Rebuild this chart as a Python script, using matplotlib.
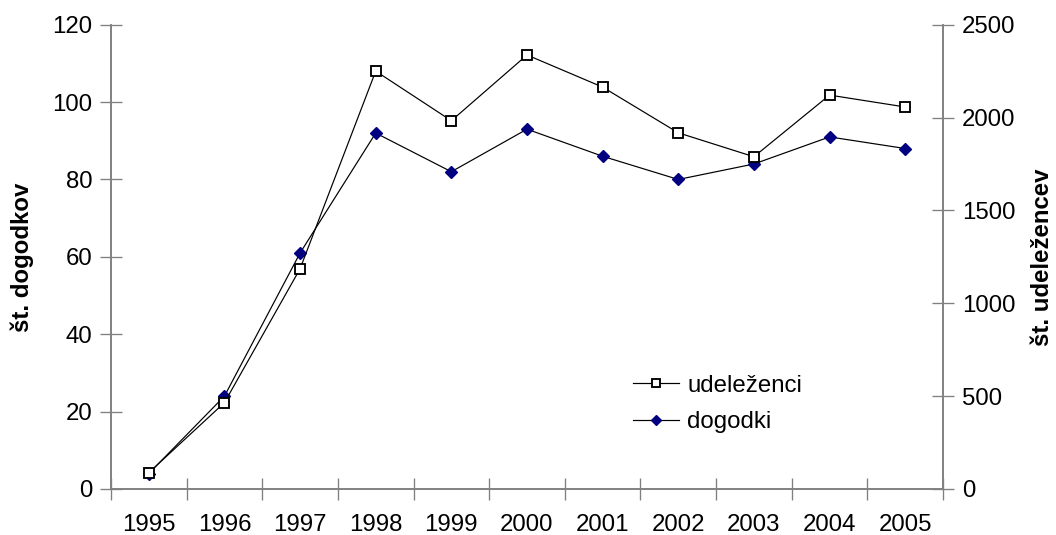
import matplotlib
matplotlib.use('Agg')
import matplotlib.pyplot as plt

# data
leta = ['1995', '1996', '1997', '1998', '1999', '2000', '2001', '2002', '2003', '2004', '2005']
dogodki = [4, 24, 61, 92, 82, 93, 86, 80, 84, 91, 88]
udelezenci = [88, 465, 1186, 2250, 1983, 2337, 2164, 1918, 1789, 2121, 2057]

plt.rcParams['font.family'] = ['Liberation Sans', 'DejaVu Sans']
fs = 18

fig = plt.figure(figsize=(11, 5.573), dpi=96)
ax = fig.add_axes([0.1051, 0.086, 0.7879, 0.8678])
ax2 = ax.twinx()

x = list(range(len(leta)))
l2, = ax.plot(x, dogodki, color='black', lw=0.9, marker='D', ms=6.5,
              mfc='#000080', mec='#000080', label='dogodki')
l1, = ax2.plot(x, udelezenci, color='black', lw=0.9, marker='s', ms=8,
               mfc='white', mec='black', mew=1.4, label='udeleženci')

ax.set_xlim(-0.5, len(leta) - 0.5)
ax.set_ylim(0, 120)
ax2.set_ylim(0, 2500)
ax.set_yticks(range(0, 121, 20))
ax2.set_yticks(range(0, 2501, 500))

# category labels at centres, tick marks between categories
ax.set_xticks(x)
ax.set_xticklabels(leta)
ax.set_xticks([i - 0.5 for i in range(len(leta) + 1)], minor=True)
ax.tick_params(axis='x', which='major', length=0, pad=19, labelsize=fs)
ax.tick_params(axis='x', which='minor', direction='inout', length=16, width=1, color='#808080')
ax.tick_params(axis='y', direction='inout', length=16, width=1, color='#808080', labelsize=fs, pad=6)
ax2.tick_params(axis='y', direction='inout', length=16, width=1, color='#808080', labelsize=fs, pad=6)

for a in (ax, ax2):
    a.spines['top'].set_visible(False)
    for s in ('left', 'right', 'bottom'):
        a.spines[s].set_color('#808080')
        a.spines[s].set_linewidth(1.2)

ax.set_ylabel('št. dogodkov', fontsize=fs, fontweight='bold', labelpad=14)
ax2.set_ylabel('št. udeležencev', fontsize=fs, fontweight='bold', labelpad=12)

leg = ax.legend([l1, l2], ['udeleženci', 'dogodki'], loc='center left',
                bbox_to_anchor=(0.613, 0.183), frameon=False, fontsize=fs,
                handlelength=1.9, handletextpad=0.35, labelspacing=0.6,
                borderpad=0, markerscale=0.8)

fig.savefig('out.png', dpi=96)
